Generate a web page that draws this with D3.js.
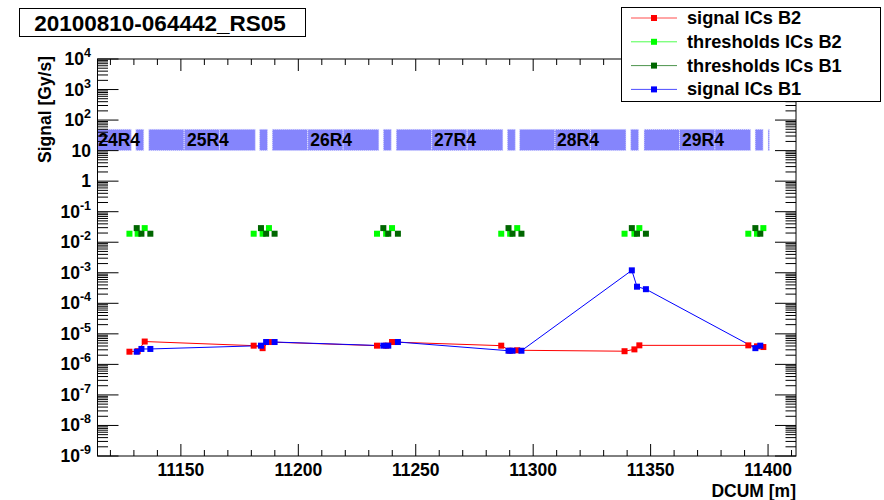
<!DOCTYPE html>
<html>
<head>
<meta charset="utf-8">
<script src="https://cdn.jsdelivr.net/npm/d3@7"></script>
<style>
  body { margin: 0; background: #fff; }
  svg { font-family: "Liberation Sans", Arial, Helvetica, sans-serif; font-weight: bold; }
</style>
</head>
<body>
<svg id="chart" width="884" height="500"></svg>
<script>
// positions des moniteurs (DCUM en m)
var b2Dcum = [11128.1, 11131.6, 11134.6, 11181.0, 11184.8, 11187.5, 11233.5, 11237.4, 11239.9,
              11286.4, 11290.2, 11293.2, 11338.9, 11343.1, 11345.2, 11391.6, 11395.3, 11398.0];
var b1Dcum = [11131.2, 11133.2, 11137.0, 11184.1, 11186.3, 11189.9, 11236.2, 11238.3, 11242.4,
              11289.5, 11291.2, 11295.0, 11342.0, 11344.2, 11348.0, 11394.6, 11396.7];

// valeurs (Gy/s)
var signalB2 = [2.6e-6, 2.7e-6, 5.6e-6, 4.1e-6, 3.4e-6, 5.4e-6, 4.1e-6, 4.1e-6, 5.4e-6,
                4.1e-6, 2.8e-6, 2.9e-6, 2.7e-6, 3.1e-6, 4.2e-6, 4.2e-6, 3.9e-6, 3.7e-6];
var thresholdsB2 = [0.019, 0.019, 0.029, 0.019, 0.019, 0.029, 0.019, 0.019, 0.029,
                    0.019, 0.019, 0.029, 0.019, 0.019, 0.029, 0.019, 0.019, 0.029];
var thresholdsB1 = [0.029, 0.019, 0.019, 0.029, 0.019, 0.019, 0.029, 0.019, 0.019,
                    0.029, 0.019, 0.019, 0.029, 0.019, 0.019, 0.029, 0.019];
var signalB1 = [2.6e-6, 3.2e-6, 3.2e-6, 4.1e-6, 5.4e-6, 5.4e-6, 4.1e-6, 4.1e-6, 5.4e-6,
                2.8e-6, 2.8e-6, 2.8e-6, 1.2e-3, 3.5e-4, 2.9e-4, 3.4e-6, 4.1e-6];

// aimants (bande bleue entre 10 et 50)
var magnetStart = [11083.6, 11098.7, 11113.8, 11130.8,
                   11136.3, 11151.4, 11166.5, 11183.5,
                   11188.9, 11204.0, 11219.1, 11236.2,
                   11241.7, 11256.8, 11271.9, 11289.0,
                   11294.2, 11309.3, 11324.4, 11341.5,
                   11347.2, 11362.3, 11377.4, 11394.5,
                   11400.0];
var magnetEnd = [11098.7, 11113.8, 11128.9, 11134.2,
                 11151.4, 11166.5, 11181.7, 11186.9,
                 11204.0, 11219.1, 11234.3, 11239.6,
                 11256.8, 11271.9, 11287.1, 11292.4,
                 11309.3, 11324.4, 11339.5, 11344.9,
                 11362.3, 11377.4, 11392.6, 11397.9,
                 11400.6];
var cellNames = ["24R4", "25R4", "26R4", "27R4", "28R4", "29R4"];
var cellDcum = [11123.7, 11161.5, 11214.0, 11266.7, 11319.1, 11372.3];
var bandLow = 10, bandHigh = 50;

var xTicks = [11150, 11200, 11250, 11300, 11350, 11400];
var yExponents = [-9, -8, -7, -6, -5, -4, -3, -2, -1, 0, 1, 2, 3, 4];

var title = "20100810-064442_RS05";
var legendNames = ["signal ICs B2", "thresholds ICs B2", "thresholds ICs B1", "signal ICs B1"];
var legendColors = ["#ff0000", "#00ff00", "#006600", "#0000ff"];

// cadre
var fLeft = 97.5, fRight = 796, fTop = 59, fBottom = 456;

var svg = d3.select("#chart");

var x = d3.scaleLinear().domain([11114.5, 11411.9]).range([fLeft, fRight]);
var y = d3.scaleLog().domain([1e-9, 1e4]).range([fBottom, fTop]);

var defs = svg.append("defs");
defs.append("clipPath").attr("id", "clip").append("rect")
  .attr("x", fLeft).attr("y", fTop).attr("width", fRight - fLeft).attr("height", fBottom - fTop);

var plot = svg.append("g").attr("clip-path", "url(#clip)");

// bande des aimants
plot.selectAll("rect.magnet").data(magnetStart).enter().append("rect")
  .attr("class", "magnet")
  .attr("x", function(d) { return x(d); })
  .attr("width", function(d, i) { return x(magnetEnd[i]) - x(d); })
  .attr("y", y(bandHigh))
  .attr("height", y(bandLow) - y(bandHigh))
  .attr("fill", "#8585fc")
  .attr("stroke", "#e4e4ff").attr("stroke-width", 1).attr("stroke-dasharray", "1,1");

plot.selectAll("text.cell").data(cellNames).enter().append("text")
  .attr("class", "cell")
  .attr("x", function(d, i) { return x(cellDcum[i]); })
  .attr("y", y(bandLow) - 4.5)
  .attr("text-anchor", "middle")
  .style("font-size", "17.5px")
  .text(function(d) { return d; });

// axes (ticks vers l'intérieur, style ROOT)
var axes = svg.append("g").attr("stroke", "#000").attr("stroke-width", 1);
var xMinor = d3.range(11120, 11411, 10);
xMinor.forEach(function(v) {
  var len = (v % 50 === 0) ? 12 : 6;
  axes.append("line").attr("x1", x(v)).attr("x2", x(v)).attr("y1", fBottom).attr("y2", fBottom - len);
  axes.append("line").attr("x1", x(v)).attr("x2", x(v)).attr("y1", fTop).attr("y2", fTop + len);
});
yExponents.forEach(function(e) {
  var base = Math.pow(10, e);
  axes.append("line").attr("x1", fLeft).attr("x2", fLeft + 21).attr("y1", y(base)).attr("y2", y(base));
  axes.append("line").attr("x1", fRight).attr("x2", fRight - 21).attr("y1", y(base)).attr("y2", y(base));
  if (e < 4) {
    for (var k = 2; k <= 9; k++) {
      var v = k * base;
      axes.append("line").attr("x1", fLeft).attr("x2", fLeft + 10.5).attr("y1", y(v)).attr("y2", y(v));
      axes.append("line").attr("x1", fRight).attr("x2", fRight - 10.5).attr("y1", y(v)).attr("y2", y(v));
    }
  }
});
svg.append("rect").attr("x", fLeft).attr("y", fTop).attr("width", fRight - fLeft).attr("height", fBottom - fTop)
  .attr("fill", "none").attr("stroke", "#000").attr("stroke-width", 1);

// libellés des axes
svg.selectAll("text.xtick").data(xTicks).enter().append("text")
  .attr("class", "xtick")
  .attr("x", function(d) { return x(d); })
  .attr("y", fBottom + 20)
  .attr("text-anchor", "middle")
  .style("font-size", "17.5px")
  .text(function(d) { return d; });

var ylab = svg.selectAll("text.ytick").data(yExponents).enter().append("text")
  .attr("class", "ytick")
  .attr("x", 91)
  .attr("y", function(e) { return y(Math.pow(10, e)) + 6; })
  .attr("text-anchor", "end")
  .style("font-size", "17.5px");
ylab.each(function(e) {
  var t = d3.select(this);
  if (e === 0) { t.text("1"); return; }
  if (e === 1) { t.text("10"); return; }
  t.append("tspan").text("10");
  t.append("tspan").attr("dy", -8).style("font-size", "12.5px").text(String(e));
});

svg.append("text")
  .attr("transform", "translate(51," + (fTop - 3) + ") rotate(-90)")
  .attr("text-anchor", "end")
  .style("font-size", "17.5px")
  .text("Signal [Gy/s]");

svg.append("text")
  .attr("x", fRight).attr("y", 497)
  .attr("text-anchor", "end")
  .style("font-size", "17.5px")
  .text("DCUM [m]");

// séries
var line = d3.line().x(function(d) { return x(d[0]); }).y(function(d) { return y(d[1]); });
var serRedPts = d3.zip(b2Dcum, signalB2);
var serBluePts = d3.zip(b1Dcum, signalB1);

plot.append("path").datum(serRedPts).attr("d", line)
  .attr("fill", "none").attr("stroke", "#ff0000").attr("stroke-width", 1);
plot.append("path").datum(serBluePts).attr("d", line)
  .attr("fill", "none").attr("stroke", "#0000ff").attr("stroke-width", 1);

function markers(pts, color) {
  plot.selectAll(null).data(pts).enter().append("rect")
    .attr("x", function(d) { return x(d[0]) - 3; })
    .attr("y", function(d) { return y(d[1]) - 3; })
    .attr("width", 6).attr("height", 6)
    .attr("fill", color);
}
markers(d3.zip(b2Dcum, thresholdsB2), "#00ff00");
markers(d3.zip(b1Dcum, thresholdsB1), "#006600");
markers(serRedPts, "#ff0000");
markers(serBluePts, "#0000ff");

// titre
svg.append("rect").attr("x", 19.5).attr("y", 8.5).attr("width", 286).attr("height", 28)
  .attr("fill", "#fff").attr("stroke", "#000");
svg.append("text").attr("x", 160).attr("y", 31).attr("text-anchor", "middle")
  .style("font-size", "22.5px").text(title);

// légende
var lg = svg.append("g");
lg.append("rect").attr("x", 621.5).attr("y", 7.5).attr("width", 259).attr("height", 94)
  .attr("fill", "#fff").attr("stroke", "#000");
legendNames.forEach(function(name, i) {
  var cy = 18 + i * 23.8;
  lg.append("line").attr("x1", 631).attr("x2", 677).attr("y1", cy).attr("y2", cy)
    .attr("stroke", legendColors[i]).attr("stroke-opacity", 0.7);
  lg.append("rect").attr("x", 651).attr("y", cy - 3).attr("width", 6).attr("height", 6)
    .attr("fill", legendColors[i]);
  lg.append("text").attr("x", 687).attr("y", cy + 6)
    .style("font-size", "18.2px").text(name);
});
</script>
</body>
</html>
